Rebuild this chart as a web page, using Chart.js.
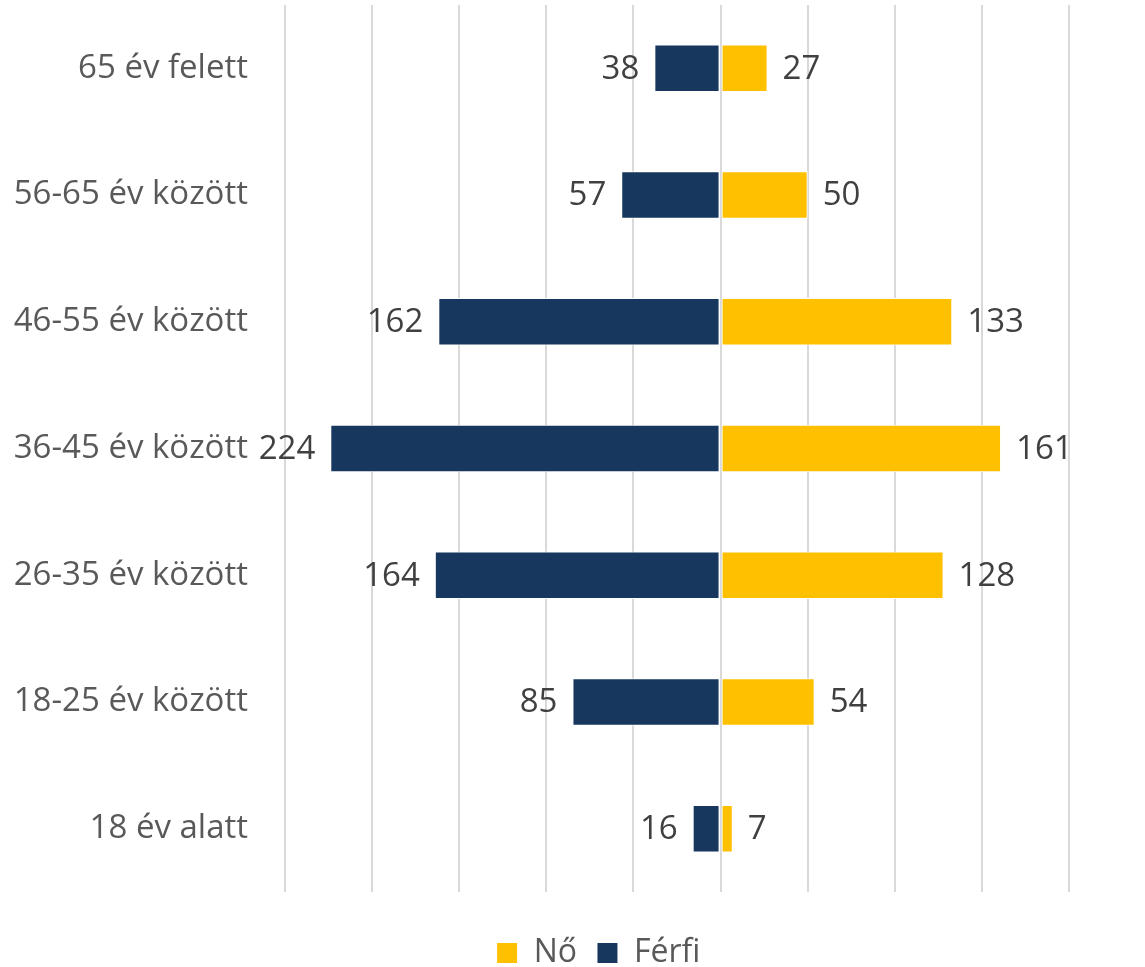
<!DOCTYPE html>
<html>
<head>
<meta charset="utf-8">
<script src="https://cdn.jsdelivr.net/npm/chart.js@4.4.1/dist/chart.umd.min.js"></script>
<style>
    html, body { margin: 0; padding: 0; background: #fff; }
    #wrap { width: 1145px; height: 967px; position: relative; }
</style>
</head>
<body>
<div id="wrap"><canvas id="chart"></canvas></div>
<script>
// age groups, top to bottom
const categories = ['65 év felett', '56-65 év között', '46-55 év között', '36-45 év között', '26-35 év között', '18-25 év között', '18 év alatt'];
const noValues = [27, 50, 133, 161, 128, 54, 7];
const ferfiValues = [38, 57, 162, 224, 164, 85, 16];
const axisMin = -250;
const axisMax = 200;
const axisStep = 50;

// Férfi goes to the left side
const ferfiLeft = ferfiValues.map(v => -v);

// simple value labels at the bar ends
const barLabels = {
    id: 'barLabels',
    afterDatasetsDraw(chart) {
        const ctx = chart.ctx;
        ctx.save();
        ctx.font = '33px "Open Sans"';
        ctx.fillStyle = '#404040';
        ctx.textBaseline = 'middle';
        chart.data.datasets.forEach((ds, i) => {
            const meta = chart.getDatasetMeta(i);
            meta.data.forEach((bar, j) => {
                const v = ds.data[j];
                if (v < 0) {
                    ctx.textAlign = 'right';
                    ctx.fillText(Math.abs(v), bar.x - 15, bar.y + 1);
                } else {
                    ctx.textAlign = 'left';
                    ctx.fillText(v, bar.x + 15, bar.y + 1);
                }
            });
        });
        ctx.restore();
    }
};

// legend sits a bit right of the plot centre in the original
const legendShift = {
    id: 'legendShift',
    afterLayout(chart) {
        if (!chart.legend) return;
        chart.legend.left += 64;
        chart.legend.right += 64;
    }
};

new Chart(document.getElementById('chart'), {
    type: 'bar',
    data: {
        labels: categories,
        datasets: [
            {
                label: 'Nő',
                data: noValues,
                backgroundColor: '#FFC000',
                borderColor: '#ffffff',
                borderWidth: 1,
                borderSkipped: false,
                categoryPercentage: 0.5,
                barPercentage: 0.75
            },
            {
                label: 'Férfi',
                data: ferfiLeft,
                backgroundColor: '#17375E',
                borderColor: '#ffffff',
                borderWidth: 1,
                borderSkipped: false,
                categoryPercentage: 0.5,
                barPercentage: 0.75
            }
        ]
    },
    options: {
        indexAxis: 'y',
        responsive: true,
        maintainAspectRatio: false,
        animation: false,
        layout: { padding: { left: 0, right: 76, top: 5, bottom: -12 } },
        plugins: {
            legend: {
                position: 'bottom',
                labels: {
                    color: '#595959',
                    font: { family: '"Open Sans"', size: 32 },
                    boxWidth: 21,
                    boxHeight: 21,
                    padding: 20
                }
            },
            tooltip: { enabled: false }
        },
        scales: {
            x: {
                stacked: true,
                min: axisMin,
                max: axisMax,
                ticks: { display: false, stepSize: axisStep },
                grid: { color: '#d9d9d9', lineWidth: 2, drawTicks: false },
                border: { display: false },
                afterFit(scale) { scale.height = 25; }
            },
            y: {
                stacked: true,
                grid: { display: false, drawTicks: true, tickLength: 37 },
                border: { display: false },
                ticks: {
                    color: '#595959',
                    font: { family: '"Open Sans"', size: 33 },
                    padding: 0
                },
                afterFit(scale) {
                    scale.width = 285;
                    scale.paddingTop = 0;
                    scale.paddingBottom = 0;
                }
            }
        }
    },
    plugins: [barLabels, legendShift]
});
</script>
</body>
</html>
